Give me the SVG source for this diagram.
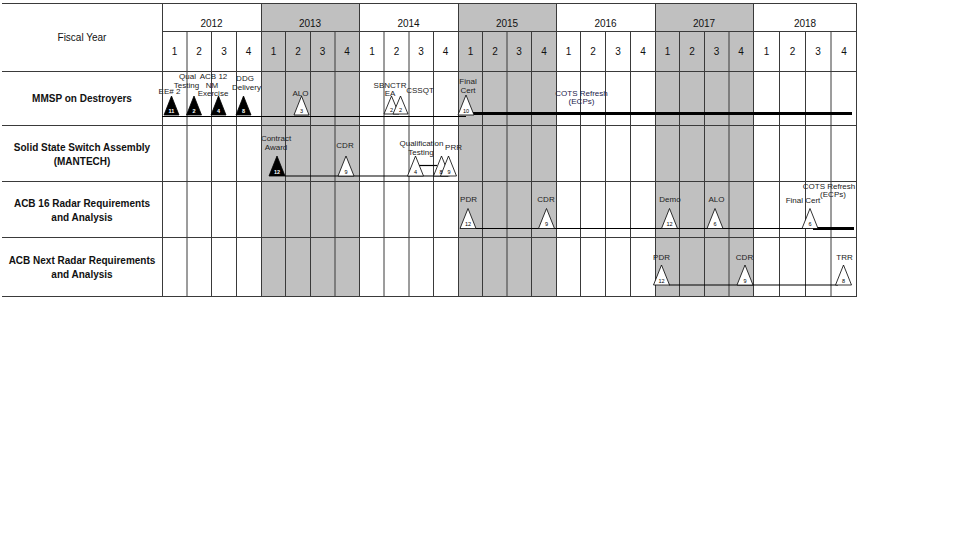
<svg xmlns="http://www.w3.org/2000/svg" width="960" height="540" viewBox="0 0 960 540">
<style>
.grid{stroke:#3a3a3a;stroke-width:1;fill:none}
.shade{fill:#c0c0c0}
.hdr{font-family:"Liberation Sans",Arial,sans-serif;font-size:10px;fill:#111;text-anchor:middle}
.row{font-family:"Liberation Sans",Arial,sans-serif;font-size:10px;font-weight:bold;fill:#111;text-anchor:middle}
.lbl{font-family:"Liberation Sans",Arial,sans-serif;font-size:8px;fill:#222;text-anchor:middle}
.cots{fill:#22224a}
.tb{fill:#000;stroke:#000;stroke-width:0.8}
.tw{fill:#fff;stroke:#000;stroke-width:0.8}
.nb{font-family:"Liberation Sans",Arial,sans-serif;font-size:5.5px;font-weight:bold;fill:#fff;text-anchor:middle}
.nw{font-family:"Liberation Sans",Arial,sans-serif;font-size:5.5px;fill:#000;text-anchor:middle}
.conn{stroke:#000;stroke-width:1.2;fill:none}
.bar{stroke:#000;stroke-width:3;fill:none}
</style>
<rect width="960" height="540" fill="#fff"/>
<g id="table">
<rect class="shade" x="261" y="3" width="98.5" height="293"/>
<rect class="shade" x="458" y="3" width="98" height="293"/>
<rect class="shade" x="655" y="3" width="98.5" height="293"/>
<path class="grid" d="M2 3.5H857 M162 31.5H857 M2 71.5H857 M2 125.5H857 M2 181.5H857 M2 237.5H857 M2 296.5H857"/>
<path class="grid" d="M162.5 3V296 M261.5 3V296 M359.5 3V296 M458.5 3V296 M556.5 3V296 M655.5 3V296 M753.5 3V296 M856.5 3V296"/>
<path class="grid" d="M187 31V296 M211.5 31V296 M236.5 31V296 M285.5 31V296 M310.5 31V296 M335 31V296 M384 31V296 M409 31V296 M433.5 31V296 M482.5 31V296 M507 31V296 M531.5 31V296 M580.5 31V296 M605.5 31V296 M630.5 31V296 M679.5 31V296 M704.5 31V296 M729 31V296 M779.5 31V296 M805.5 31V296 M831 31V296"/>
<text class="hdr" x="82" y="40.5">Fiscal Year</text>
<text class="hdr" x="211.5" y="27">2012</text>
<text class="hdr" x="310" y="27">2013</text>
<text class="hdr" x="408.5" y="27">2014</text>
<text class="hdr" x="507" y="27">2015</text>
<text class="hdr" x="605.5" y="27">2016</text>
<text class="hdr" x="704" y="27">2017</text>
<text class="hdr" x="805" y="27">2018</text>
<g class="hdr">
<text x="174.5" y="55">1</text><text x="199" y="55">2</text><text x="224" y="55">3</text><text x="248.5" y="55">4</text>
<text x="273.5" y="55">1</text><text x="298" y="55">2</text><text x="322.5" y="55">3</text><text x="347" y="55">4</text>
<text x="372" y="55">1</text><text x="396.5" y="55">2</text><text x="421" y="55">3</text><text x="445.5" y="55">4</text>
<text x="470.5" y="55">1</text><text x="495" y="55">2</text><text x="519" y="55">3</text><text x="544" y="55">4</text>
<text x="568.5" y="55">1</text><text x="593" y="55">2</text><text x="618" y="55">3</text><text x="643" y="55">4</text>
<text x="667.5" y="55">1</text><text x="692" y="55">2</text><text x="716.5" y="55">3</text><text x="741" y="55">4</text>
<text x="766.5" y="55">1</text><text x="792.5" y="55">2</text><text x="818" y="55">3</text><text x="844" y="55">4</text>
</g>
<text class="row" x="82" y="101.5">MMSP on Destroyers</text>
<text class="row" x="82" y="150.5">Solid State Switch Assembly</text>
<text class="row" x="82" y="164.5">(MANTECH)</text>
<text class="row" x="82" y="206.5">ACB 16 Radar Requirements</text>
<text class="row" x="82" y="220.5">and Analysis</text>
<text class="row" x="82" y="263.5">ACB Next Radar Requirements</text>
<text class="row" x="82" y="277.5">and Analysis</text>
</g>
<g id="connectors">
<path class="conn" d="M162 116.5H466"/>
<path class="bar" d="M473 113.5H852"/>
<path class="conn" d="M285 176H448"/>
<path class="conn" d="M419 165.5H437"/>
<path class="conn" d="M476 228.5H810"/>
<path class="bar" d="M813 228.5H854"/>
<path class="conn" d="M669 285H838"/>
</g>
<g id="ms-ee2">
<polygon class="tb" points="171.5,96 164,115 179,115"/>
<text class="nb" x="171.5" y="112.5">11</text>
<text class="lbl" x="169.5" y="94">EE# 2</text>
</g>
<g id="ms-qual">
<polygon class="tb" points="194,96 186.5,115 201.5,115"/>
<text class="nb" x="194" y="112.5">2</text>
<text class="lbl" x="187.5" y="79">Qual</text>
<text class="lbl" x="186.5" y="88">Testing</text>
</g>
<g id="ms-acb12">
<polygon class="tb" points="218.5,96 211,115 226,115"/>
<text class="nb" x="218.5" y="112.5">4</text>
<text class="lbl" x="213.5" y="79">ACB 12</text>
<text class="lbl" x="212" y="87.5">NM</text>
<text class="lbl" x="213" y="96">Exercise</text>
</g>
<g id="ms-ddg">
<polygon class="tb" points="243.5,96 236,115 251,115"/>
<text class="nb" x="243.5" y="112.5">8</text>
<text class="lbl" x="245" y="81">DDG</text>
<text class="lbl" x="246.5" y="90">Delivery</text>
</g>
<g id="ms-alo">
<polygon class="tw" points="301.5,96 294,115 309,115"/>
<text class="nw" x="301.5" y="112.5">3</text>
<text class="lbl" x="300.5" y="96">ALO</text>
</g>
<g id="ms-sbnctr">
<polygon class="tw" points="391.5,96 384,114 399,114"/>
<polygon class="tw" points="400.5,96 393,114 408,114"/>
<text class="nw" x="391.5" y="111.5">2</text>
<text class="nw" x="400.5" y="111.5">2</text>
<text class="lbl" x="390" y="88">SBNCTR</text>
<text class="lbl" x="390" y="96">EA</text>
<text class="lbl" x="420" y="93">CSSQT</text>
</g>
<g id="ms-finalcert">
<polygon class="tw" points="466,95 458,115 474,115"/>
<text class="nw" x="466" y="112.5">10</text>
<text class="lbl" x="468" y="84">Final</text>
<text class="lbl" x="468" y="92.5">Cert</text>
</g>
<g id="ms-cots1">
<text class="lbl cots" x="581.5" y="96">COTS Refresh</text>
<text class="lbl cots" x="581.5" y="104">(ECPs)</text>
</g>
<g id="ss-contract">
<polygon class="tb" points="277,156 269,176 285,176"/>
<text class="nb" x="277" y="173.5">12</text>
<text class="lbl" x="276" y="141">Contract</text>
<text class="lbl" x="276" y="150">Award</text>
</g>
<g id="ss-cdr">
<polygon class="tw" points="346,156 338,176 354,176"/>
<text class="nw" x="346" y="173.5">9</text>
<text class="lbl" x="345" y="148">CDR</text>
</g>
<g id="ss-qual">
<polygon class="tw" points="415.5,156 407.5,176 423.5,176"/>
<text class="nw" x="415.5" y="173.5">4</text>
<text class="lbl" x="421.5" y="146">Qualification</text>
<text class="lbl" x="421" y="154.5">Testing</text>
</g>
<g id="ss-prr">
<polygon class="tw" points="441.5,156 433.5,176 449.5,176"/>
<polygon class="tw" points="448.5,156 440.5,176 456.5,176"/>
<text class="nw" x="441" y="173.5">8</text>
<text class="nw" x="449" y="173.5">9</text>
<text class="lbl" x="453.5" y="150">PRR</text>
</g>
<g id="a16-pdr">
<polygon class="tw" points="468,208.5 460,228.5 476,228.5"/>
<text class="nw" x="468" y="226">12</text>
<text class="lbl" x="468.5" y="202">PDR</text>
</g>
<g id="a16-cdr">
<polygon class="tw" points="546.5,208.5 538.5,228.5 554.5,228.5"/>
<text class="nw" x="546.5" y="226">9</text>
<text class="lbl" x="546" y="202">CDR</text>
</g>
<g id="a16-demo">
<polygon class="tw" points="669.5,208.5 661.5,228.5 677.5,228.5"/>
<text class="nw" x="669.5" y="226">12</text>
<text class="lbl" x="670" y="202">Demo</text>
</g>
<g id="a16-alo">
<polygon class="tw" points="715,208.5 707,228.5 723,228.5"/>
<text class="nw" x="715" y="226">6</text>
<text class="lbl" x="716.5" y="202">ALO</text>
</g>
<g id="a16-final">
<polygon class="tw" points="810,208.5 802,228.5 818,228.5"/>
<text class="nw" x="810" y="226">6</text>
<text class="lbl" x="803" y="203">Final Cert</text>
<text class="lbl" x="829" y="189">COTS Refresh</text>
<text class="lbl" x="833" y="197">(ECPs)</text>
</g>
<g id="an-pdr">
<polygon class="tw" points="661.5,265 653.5,285 669.5,285"/>
<text class="nw" x="661.5" y="282.5">12</text>
<text class="lbl" x="661.5" y="260">PDR</text>
</g>
<g id="an-cdr">
<polygon class="tw" points="745,265 737,285 753,285"/>
<text class="nw" x="745" y="282.5">9</text>
<text class="lbl" x="744.5" y="260">CDR</text>
</g>
<g id="an-trr">
<polygon class="tw" points="843.5,265 835.5,285 851.5,285"/>
<text class="nw" x="843.5" y="282.5">8</text>
<text class="lbl" x="844.5" y="260">TRR</text>
</g>
</svg>
